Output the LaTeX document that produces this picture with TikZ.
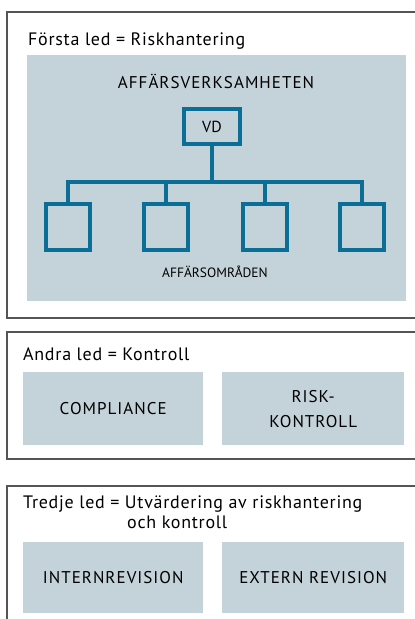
\documentclass[tikz,border=0pt]{standalone}
\usepackage{fontspec}
\setmainfont{PT Sans}
\newfontfamily\capsfont[LetterSpace=6]{PT Sans}
\newfontfamily\titlefont[LetterSpace=4]{PT Sans}
\definecolor{panel}{HTML}{C4D3D9}
\definecolor{teal}{HTML}{0B6E96}
\definecolor{frame}{HTML}{555555}
\begin{document}
\begin{tikzpicture}[x=1pt,y=-1pt,
  frameline/.style={draw=frame,line width=1.4pt},
  panelbox/.style={fill=panel,draw=none,inner sep=0pt,anchor=north west},
  orgbox/.style={draw=teal,line width=4pt,fill=none,inner sep=0pt},
  orgline/.style={draw=teal,line width=4pt},
  title/.style={anchor=base west,inner sep=0pt,font=\titlefont\fontsize{18}{20}\selectfont},
  caps/.style={inner sep=0pt,font=\capsfont\fontsize{17}{25}\selectfont,align=center},
]
\useasboundingbox (0,0) rectangle (415,619);
% frames
\draw[frameline] (416,12) -- (7,12) -- (7,318) -- (416,318);
\draw[frameline] (416,332) -- (7,332) -- (7,459) -- (416,459);
\draw[frameline] (416,486) -- (7,486) -- (7,620);
% panels
\node[panelbox,minimum width=379pt,minimum height=246pt] (p1) at (27,55) {};
\node[panelbox,minimum width=180pt,minimum height=73pt] (comp) at (23,372) {};
\node[panelbox,minimum width=182pt,minimum height=73pt] (risk) at (222,372) {};
\node[panelbox,minimum width=180pt,minimum height=71pt] (intern) at (23,542) {};
\node[panelbox,minimum width=182pt,minimum height=71pt] (extern) at (222,542) {};
% titles
\node[title] (t1) at (28,45) {Första led = Riskhantering};
\node[title] (t2) at (23,360) {Andra led = Kontroll};
\node[title] (t3) at (23,508) {Tredje led = Utvärdering av riskhantering};
\node[title] (t3b) at (127,528) {och kontroll};
% org chart
\node[caps,anchor=base] (aff) at (216,88) {AFFÄRSVERKSAMHETEN};
\node[orgbox,minimum width=56pt,minimum height=35pt,font=\fontsize{16}{18}\selectfont] (vd) at (212,126.5) {VD};
\coordinate (bus) at (212,182);
\node[orgbox,minimum width=44pt,minimum height=46pt] (c1) at (68,227) {};
\node[orgbox,minimum width=44pt,minimum height=46pt] (c2) at (166,227) {};
\node[orgbox,minimum width=44pt,minimum height=46pt] (c3) at (264.5,227) {};
\node[orgbox,minimum width=44pt,minimum height=46pt] (c4) at (362,227) {};
\draw[orgline] (vd.south) -- (bus);
\draw[orgline,line cap=rect] (c1 |- bus) -- (c4 |- bus);
\foreach \c in {c1,c2,c3,c4} \draw[orgline] (\c |- bus) -- (\c.north);
\node[anchor=base,inner sep=0pt,font=\fontsize{13.5}{14}\selectfont] (omr) at (215,277) {AFFÄRSOMRÅDEN};
% labels
\node[caps] (compl) at (comp.center) {COMPLIANCE};
\node[caps] (riskl) at (risk.center) {RISK-\\KONTROLL};
\node[caps] (internl) at (intern.center) {INTERNREVISION};
\node[caps] (externl) at (extern.center) {EXTERN REVISION};
\end{tikzpicture}
\end{document}
